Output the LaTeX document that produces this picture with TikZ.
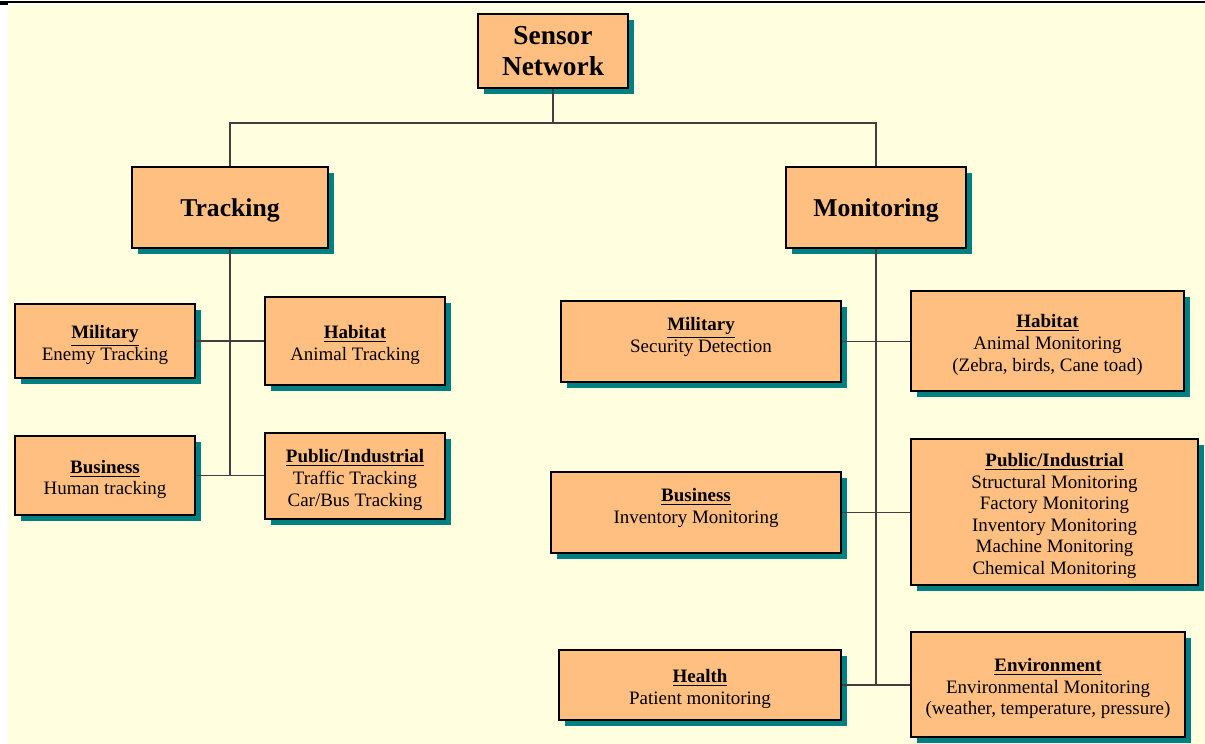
\documentclass[tikz,border=0pt]{standalone}
\usepackage{fontspec}
\setmainfont{Liberation Serif}
\usepackage{tikz}
\usetikzlibrary{shadows}
\definecolor{cream}{HTML}{FFFFE0}
\definecolor{peach}{HTML}{FFBF80}
\definecolor{shade}{HTML}{008080}
\newcommand{\hd}[1]{\rule{0pt}{12pt}\underline{\textbf{#1}}}

\begin{document}
\begin{tikzpicture}[x=0.02cm, y=-0.02cm,
		box/.style={draw=black, line width=1.1pt, fill=peach, inner sep=0pt, align=center,
			drop shadow={shadow xshift=0.12cm, shadow yshift=-0.12cm, fill=shade, opacity=1}},
		big/.style={box, font=\fontsize{14.6}{18}\selectfont\bfseries},
		leaf/.style={box, font=\fontsize{10.8}{12.3}\selectfont},
		wire/.style={black!75, line width=0.6pt}]
		\useasboundingbox (0,0) rectangle (1205,744);
		\fill[cream] (8,5) rectangle (1205,744);
		\draw[line width=0.9pt] (0,2) -- (1205,2);
		\fill (0,1) rectangle (8,5);
%		
		\node[big, font=\fontsize{15.6}{18}\selectfont\bfseries, minimum width=3.0cm, minimum height=1.48cm] (sensor) at (553,51) {Sensor\\Network};
		\node[big, minimum width=3.92cm, minimum height=1.62cm] (tracking) at (230,207.5) {\rule{0pt}{14pt}Tracking};
		\node[big, minimum width=3.6cm, minimum height=1.62cm] (monitoring) at (876,207.5) {\rule{0pt}{14pt}Monitoring};
		\coordinate (bus) at (553,123);
		\draw[wire] (sensor.south) -- (bus);
		\draw[wire] (tracking.north) |- (bus) -| (monitoring.north);
%		tracking side
		\node[leaf, minimum width=3.6cm, minimum height=1.48cm] (tmil) at (105,341) {\hd{Military}\\Enemy Tracking};
		\node[leaf, minimum width=3.6cm, minimum height=1.76cm] (thab) at (355,341) {\hd{Habitat}\\Animal Tracking};
		\node[leaf, minimum width=3.6cm, minimum height=1.58cm] (tbus) at (105,475.5) {\hd{Business}\\Human tracking};
		\node[leaf, minimum width=3.6cm, minimum height=1.72cm] (tpub) at (355,476) {\hd{Public/Industrial}\\Traffic Tracking\\Car/Bus Tracking};
		\coordinate (tend) at (230,476);
		\draw[wire] (tracking.south) -- (tend); % Vertical line
		\draw[wire] (tmil.east) -- (tmil.east -| thab.west);
		\draw[wire] (tbus.east) -- (tbus.east -| tpub.west);
%		monitoring side
		\node[leaf, minimum width=5.6cm, minimum height=1.62cm] (mmil) at (701,341.5) {\hd{Military}\\Security Detection\\\mbox{}};
		\node[leaf, minimum width=5.46cm, minimum height=2.0cm] (mhab) at (1047.5,341) {\hd{Habitat}\\Animal Monitoring\\(Zebra, birds, Cane toad)};
		\node[leaf, minimum width=5.8cm, minimum height=1.62cm] (mbus) at (696,512.5) {\hd{Business}\\Inventory Monitoring\\\mbox{}};
		\node[leaf, minimum width=5.74cm, minimum height=2.92cm] (mpub) at (1054.5,512) {\hd{Public/Industrial}\\Structural Monitoring\\Factory Monitoring\\Inventory Monitoring\\Machine Monitoring\\Chemical Monitoring};
		\node[leaf, minimum width=5.64cm, minimum height=1.4cm] (mhea) at (700,685) {\hd{Health}\\Patient monitoring};
		\node[leaf, minimum width=5.48cm, minimum height=2.1cm] (menv) at (1048,684.5) {\hd{Environment}\\Environmental Monitoring\\(weather, temperature, pressure)};
		\coordinate (mend) at (876,685);
		\draw[wire] (monitoring.south) -- (mend); % Vertical line
		\draw[wire] (mmil.east) -- (mmil.east -| mhab.west);
		\draw[wire] (mbus.east) -- (mbus.east -| mpub.west);
		\draw[wire] (mhea.east) -- (mhea.east -| menv.west);
\end{tikzpicture}
\end{document}
